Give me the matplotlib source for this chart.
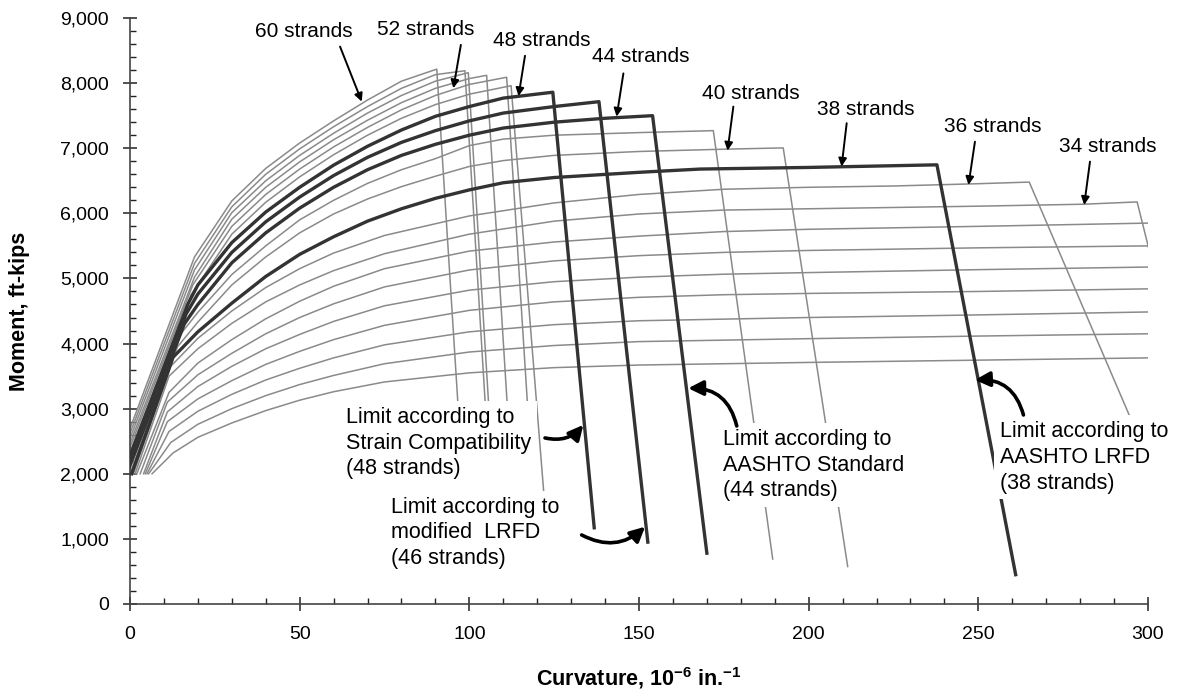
import matplotlib
matplotlib.use('Agg')
import matplotlib.pyplot as plt
from matplotlib.ticker import MultipleLocator, FuncFormatter

plt.rcParams['font.family'] = ['Liberation Sans', 'DejaVu Sans']
plt.rcParams['mathtext.fontset'] = 'custom'
plt.rcParams['mathtext.rm'] = 'Liberation Sans'
plt.rcParams['mathtext.bf'] = 'Liberation Sans:bold'

# number of strands for each curve, top curve first
strands = [60, 58, 56, 54, 52, 50, 48, 46, 44, 42, 40, 38, 36, 34, 32, 30, 28, 26, 24, 22, 20]
bold_strands = [48, 46, 44, 38]

# curvature (10^-6 in.^-1) and moment (ft-kips)
curv_60 = [-5, 19, 30, 40, 50, 60, 70, 80, 90.4, 98]
mom_60 = [2000, 5330, 6190, 6690, 7080, 7420, 7740, 8030, 8215, 1950]
curv_58 = [-4.5, 19, 30, 40, 50, 60, 70, 80, 90, 98.7, 106]
mom_58 = [2000, 5230, 6100, 6600, 6990, 7330, 7640, 7920, 8130, 8190, 1950]
curv_56 = [-4, 19, 30, 40, 50, 60, 70, 80, 90, 99.7, 107]
mom_56 = [2000, 5130, 6010, 6500, 6890, 7230, 7540, 7810, 8030, 8160, 1950]
curv_54 = [-3.5, 19, 30, 40, 50, 60, 70, 80, 90, 100, 105.1, 112.5]
mom_54 = [2000, 5020, 5910, 6400, 6790, 7130, 7430, 7700, 7920, 8070, 8120, 1950]
curv_52 = [-3, 18.5, 30, 40, 50, 60, 70, 80, 90, 100, 111, 118.5]
mom_52 = [2000, 4900, 5800, 6290, 6680, 7020, 7320, 7590, 7810, 7980, 8090, 1950]
curv_50 = [-2.5, 18, 30, 40, 50, 60, 70, 80, 90, 100, 112.3, 122]
mom_50 = [2000, 4750, 5680, 6170, 6560, 6900, 7200, 7460, 7670, 7830, 7960, 1670]
curv_48 = [-2, 17, 20, 30, 40, 50, 60, 70, 80, 90, 100, 110, 124.6, 136.8]
mom_48 = [2000, 4600, 4900, 5550, 6020, 6400, 6740, 7030, 7280, 7490, 7640, 7770, 7860, 1170]
curv_46 = [-1.5, 16.5, 20, 30, 40, 50, 60, 70, 80, 90, 100, 110, 125, 138.2, 152.6]
mom_46 = [2000, 4450, 4760, 5400, 5870, 6250, 6580, 6860, 7090, 7270, 7420, 7540, 7640, 7715, 950]
curv_44 = [-1, 16, 20, 30, 40, 50, 60, 70, 80, 90, 100, 110, 125, 140, 154, 170]
mom_44 = [2000, 4300, 4600, 5240, 5700, 6080, 6400, 6670, 6890, 7060, 7200, 7310, 7400, 7460, 7500, 780]
curv_42 = [-0.5, 15, 20, 30, 40, 50, 60, 70, 80, 90, 100, 110, 125, 150, 171.9, 189.4]
mom_42 = [2000, 4150, 4480, 5060, 5500, 5900, 6200, 6460, 6670, 6840, 7040, 7140, 7200, 7240, 7270, 690]
curv_40 = [0, 14, 20, 30, 40, 50, 60, 70, 80, 90, 100, 110, 125, 150, 175, 192.5, 211.5]
mom_40 = [2000, 3950, 4330, 4900, 5330, 5700, 5990, 6220, 6410, 6570, 6720, 6810, 6890, 6950, 6985, 7005, 575]
curv_38 = [0.5, 12.7, 20, 30, 40, 50, 60, 70, 80, 90, 100, 110, 125, 150, 168, 200, 237.8, 261]
mom_38 = [2000, 3790, 4180, 4620, 5030, 5370, 5640, 5880, 6070, 6230, 6360, 6470, 6550, 6630, 6680, 6705, 6745, 450]
curv_36 = [1, 12, 20, 30, 40, 50, 60, 75, 100, 125, 150, 175, 200, 225, 250, 265, 306]
mom_36 = [2000, 3650, 4080, 4500, 4860, 5150, 5390, 5660, 5960, 6160, 6290, 6370, 6400, 6420, 6455, 6480, 1500]
curv_34 = [1.5, 11.5, 20, 30, 40, 50, 60, 75, 100, 125, 150, 175, 200, 225, 250, 281, 296.8, 312]
mom_34 = [2000, 3500, 3920, 4310, 4640, 4900, 5120, 5380, 5680, 5880, 5990, 6050, 6070, 6090, 6110, 6140, 6175, 3000]
curv_32 = [2, 11.5, 20, 30, 40, 50, 60, 75, 100, 125, 150, 175, 200, 250, 300, 330]
mom_32 = [2000, 3250, 3700, 4060, 4380, 4650, 4880, 5150, 5420, 5560, 5650, 5720, 5755, 5800, 5850, 5870]
curv_30 = [3, 11, 20, 30, 40, 50, 60, 75, 100, 125, 150, 175, 200, 250, 300, 330]
mom_30 = [2000, 3100, 3520, 3850, 4150, 4400, 4610, 4870, 5130, 5270, 5350, 5400, 5430, 5470, 5500, 5515]
curv_28 = [4, 11, 20, 30, 40, 50, 60, 75, 100, 125, 150, 175, 200, 250, 300, 330]
mom_28 = [2000, 2950, 3340, 3650, 3920, 4140, 4340, 4580, 4820, 4950, 5020, 5065, 5090, 5135, 5175, 5190]
curv_26 = [4.5, 11, 20, 30, 40, 50, 60, 75, 100, 125, 150, 175, 200, 250, 300, 330]
mom_26 = [2000, 2800, 3150, 3430, 3680, 3880, 4060, 4280, 4510, 4640, 4710, 4750, 4770, 4800, 4840, 4855]
curv_24 = [5, 11.5, 20, 30, 40, 50, 60, 75, 100, 125, 150, 200, 250, 300, 330]
mom_24 = [2000, 2650, 2960, 3220, 3440, 3620, 3780, 3980, 4180, 4290, 4350, 4400, 4440, 4485, 4500]
curv_22 = [5.5, 12, 20, 30, 40, 50, 60, 75, 100, 125, 150, 200, 250, 300, 330]
mom_22 = [2000, 2480, 2760, 3000, 3200, 3370, 3510, 3690, 3870, 3970, 4030, 4075, 4115, 4150, 4165]
curv_20 = [6.5, 12.7, 20, 30, 40, 50, 60, 75, 100, 125, 150, 200, 250, 300, 330]
mom_20 = [2000, 2320, 2560, 2780, 2970, 3130, 3260, 3410, 3550, 3630, 3670, 3710, 3745, 3780, 3795]

curves = {
    60: (curv_60, mom_60), 58: (curv_58, mom_58), 56: (curv_56, mom_56),
    54: (curv_54, mom_54), 52: (curv_52, mom_52), 50: (curv_50, mom_50),
    48: (curv_48, mom_48), 46: (curv_46, mom_46), 44: (curv_44, mom_44),
    42: (curv_42, mom_42), 40: (curv_40, mom_40), 38: (curv_38, mom_38),
    36: (curv_36, mom_36), 34: (curv_34, mom_34), 32: (curv_32, mom_32),
    30: (curv_30, mom_30), 28: (curv_28, mom_28), 26: (curv_26, mom_26),
    24: (curv_24, mom_24), 22: (curv_22, mom_22), 20: (curv_20, mom_20),
}

# strand labels: text position, arrow tail, arrow tip
strand_labels = [
    ('60 strands', (51.3, 8790), (61.9, 8561), (68.3, 7716)),
    ('52 strands', (87.0, 8817), (97.5, 8587), (95.3, 7921)),
    ('48 strands', (121.4, 8656), (116.4, 8420), (114.5, 7800)),
    ('44 strands', (150.6, 8402), (145.4, 8149), (143.4, 7485)),
    ('40 strands', (183.0, 7845), (177.8, 7639), (176.1, 6963)),
    ('38 strands', (216.9, 7588), (211.2, 7384), (209.7, 6718)),
    ('36 strands', (254.2, 7332), (249.0, 7100), (247.1, 6436)),
    ('34 strands', (288.1, 7025), (282.9, 6794), (281.2, 6129)),
]

# limit notes: text, text position (left, top), arrow tail, arrow tip, bend
limit_notes = [
    ('Limit according to\nStrain Compatibility\n(48 strands)', (63.7, 3030), (122.3, 2550), (133.6, 2750), 0.3),
    ('Limit according to\nmodified  LRFD\n(46 strands)', (76.9, 1650), (133.1, 1060), (151.8, 1187), 0.35),
    ('Limit according to\nAASHTO Standard\n(44 strands)', (174.8, 2690), (178.8, 2734), (164.5, 3313), 0.4),
    ('Limit according to\nAASHTO LRFD\n(38 strands)', (256.4, 2810), (263.3, 2903), (249.0, 3441), 0.4),
]

fig = plt.figure(figsize=(11.84, 6.98), dpi=100)
ax = fig.add_axes([0.1098, 0.1347, 0.8598, 0.8395])

for n in strands:
    x, m = curves[n]
    if n in bold_strands:
        ax.plot(x, m, color='#333333', lw=2.4, zorder=3)
    else:
        ax.plot(x, m, color='#8a8a8a', lw=1.1, zorder=2)

for txt, pos, tail, tip in strand_labels:
    ax.text(pos[0], pos[1], txt, ha='center', va='center', fontsize=15, zorder=6)
    ax.annotate('', xy=tip, xytext=tail,
                arrowprops=dict(arrowstyle='-|>', color='black', lw=1.4,
                                mutation_scale=12, shrinkA=0, shrinkB=0), zorder=6)

for txt, pos, tail, tip, rad in limit_notes:
    ax.text(pos[0], pos[1], txt, ha='left', va='top', fontsize=15.5, linespacing=1.3,
            zorder=5, bbox=dict(facecolor='white', edgecolor='none', pad=4))
    ax.annotate('', xy=tip, xytext=tail,
                arrowprops=dict(arrowstyle='-|>', color='black', lw=2.6,
                                mutation_scale=22, shrinkA=0, shrinkB=0,
                                connectionstyle='arc3,rad=%s' % rad), zorder=6)

ax.set_xlim(0, 300)
ax.set_ylim(0, 9000)
ax.xaxis.set_major_locator(MultipleLocator(50))
ax.xaxis.set_minor_locator(MultipleLocator(10))
ax.yaxis.set_major_locator(MultipleLocator(1000))
ax.yaxis.set_minor_locator(MultipleLocator(200))
ax.yaxis.set_major_formatter(FuncFormatter(lambda v, p: '{:,}'.format(int(v))))

for side in ['top', 'right']:
    ax.spines[side].set_visible(False)
for side in ['left', 'bottom']:
    ax.spines[side].set_color('#444444')
    ax.spines[side].set_linewidth(1.2)

ax.tick_params(which='major', direction='inout', length=10, width=1.1, labelsize=14, color='#222222')
ax.tick_params(which='minor', direction='in', length=4, width=1.0, color='#222222')
ax.tick_params(axis='x', which='major', pad=11)
ax.tick_params(axis='y', which='major', pad=10)

ax.set_xlabel(r'Curvature, 10$^{\mathbf{-6}}$ in.$^{\mathbf{-1}}$', fontsize=15.5, fontweight='bold', labelpad=16)
ax.set_ylabel('Moment, ft-kips', fontsize=15.5, fontweight='bold', labelpad=22)

fig.savefig('out.png', dpi=100)
